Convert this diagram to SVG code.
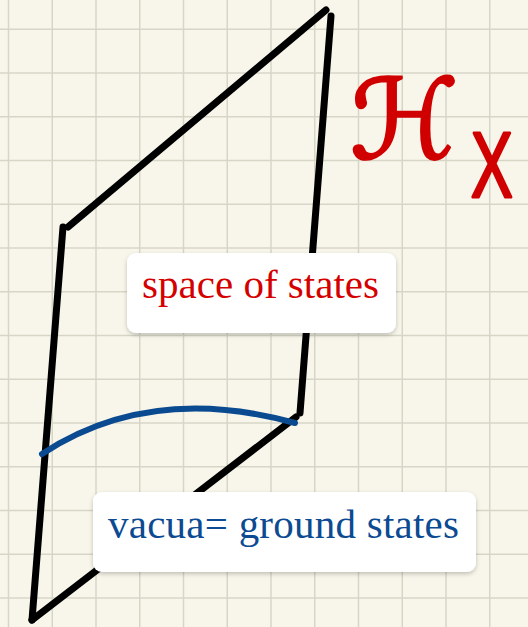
<svg xmlns="http://www.w3.org/2000/svg" width="528" height="627" viewBox="0 0 528 627">
  <defs>
    <filter id="shadow" x="-10%" y="-20%" width="120%" height="150%">
      <feDropShadow dx="0" dy="2" stdDeviation="2" flood-color="#000" flood-opacity="0.22"/>
    </filter>
  </defs>
  <style>
    .grid { stroke: #d6d6c7; stroke-width: 1.5; fill: none; }
    .edge { stroke: #000; stroke-width: 7; stroke-linecap: round; fill: none; }
    .vac { stroke: #0a4a91; stroke-width: 6; stroke-linecap: round; fill: none; }
    .box { fill: #fff; filter: url(#shadow); }
    .lbl { font-family: "Liberation Serif", "Times New Roman", serif; font-size: 41px; }
    .ink { fill: #d10000; stroke: #d10000; stroke-linejoin: round; }
  </style>
  <rect width="528" height="627" fill="#f8f6ea"/>
  <g id="grid">
    <path class="grid" d="M8.5 0V627M52.25 0V627M96 0V627M139.75 0V627M183.5 0V627M227.25 0V627M271 0V627M314.75 0V627M358.5 0V627M402.25 0V627M446 0V627M489.75 0V627"/>
    <path class="grid" d="M0 29.3H528M0 73.05H528M0 116.8H528M0 160.55H528M0 204.3H528M0 248.05H528M0 291.8H528M0 335.55H528M0 379.3H528M0 423.05H528M0 466.8H528M0 510.55H528M0 554.3H528M0 598.05H528"/>
  </g>
  <g id="connectors">
    <line class="edge" x1="68" y1="227" x2="326" y2="10"/>
    <line class="edge" x1="331" y1="16" x2="300" y2="413"/>
    <line class="edge" x1="63" y1="227" x2="32" y2="620"/>
    <line class="edge" x1="32" y1="620" x2="296" y2="417"/>
    <path class="vac" d="M42 454 Q150 383 295 423"/>
  </g>
  <g id="hilbert-label">
    <text class="ink" x="350" y="158" font-family="DejaVu Sans, sans-serif" font-size="110" stroke-width="2.5">ℋ</text>
    <text class="ink" x="0" y="0" font-family="Liberation Sans, sans-serif" font-size="92" stroke-width="3" transform="translate(471 197) scale(0.68 1)">X</text>
  </g>
  <g id="space-of-states">
    <rect class="box" x="127" y="253" width="269" height="80" rx="9"/>
    <text class="lbl" x="142" y="297.5" fill="#d40000" textLength="237" lengthAdjust="spacing">space of states</text>
  </g>
  <g id="vacua">
    <rect class="box" x="93" y="492" width="383" height="80" rx="9"/>
    <text class="lbl" x="108" y="537.5" fill="#0c4a92" textLength="351" lengthAdjust="spacing">vacua= ground states</text>
  </g>
</svg>
